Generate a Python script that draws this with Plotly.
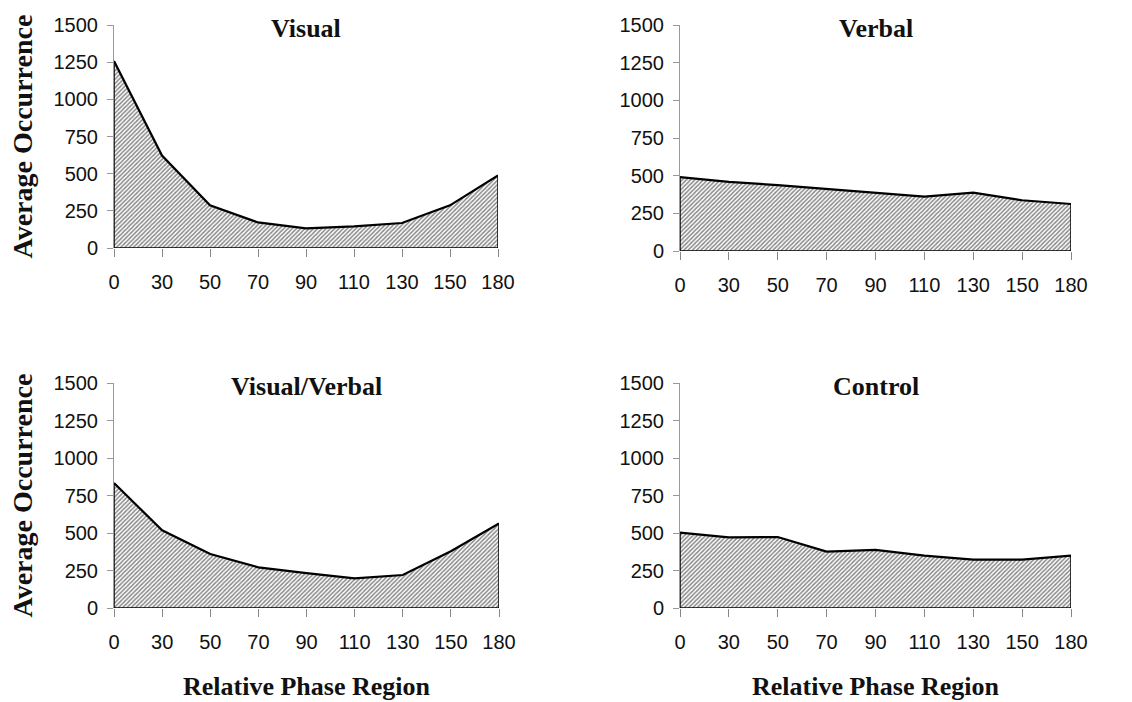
import plotly.graph_objects as go

phase_regions = ["0", "30", "50", "70", "90", "110", "130", "150", "180"]
visual = [1258, 622, 287, 172, 132, 146, 168, 287, 488]
verbal = [490, 459, 437, 412, 390, 361, 388, 337, 312]
visual_verbal = [833, 518, 360, 271, 233, 198, 220, 378, 564]
control = [502, 471, 473, 376, 387, 349, 322, 322, 349]
panel_titles = ["Visual", "Verbal", "Visual/Verbal", "Control"]
y_ticks = [0, 250, 500, 750, 1000, 1250, 1500]

W, H = 1132, 702
# panel pixel boxes: (left, right, top, bottom)
boxes = [(114, 498, 25, 248), (680, 1071, 25, 251),
         (114, 499, 383, 608), (680, 1071, 383, 608)]
series = [visual, verbal, visual_verbal, control]

fig = go.Figure()
serif = "Liberation Serif, Times New Roman, serif"
sans = "Liberation Sans, Arial, sans-serif"

for i, (vals, box, title) in enumerate(zip(series, boxes, panel_titles)):
    n = "" if i == 0 else str(i + 1)
    xa, ya = "x" + n, "y" + n
    l, r, t, b = box
    fig.add_trace(go.Scatter(
        x=phase_regions, y=vals, xaxis=xa, yaxis=ya, mode="lines",
        line=dict(color="black", width=2.2), fill="tozeroy",
        fillcolor="white",
        fillpattern=dict(shape="/", fgcolor="#111111", bgcolor="white",
                         size=3, solidity=0.5),
        showlegend=False, hoverinfo="skip"))
    # closing edges at the ends and baseline
    fig.add_trace(go.Scatter(
        x=[phase_regions[0], phase_regions[0], phase_regions[-1], phase_regions[-1]],
        y=[vals[0], 0, 0, vals[-1]], xaxis=xa, yaxis=ya, mode="lines",
        line=dict(color="black", width=1.5), showlegend=False, hoverinfo="skip"))
    fig.layout["xaxis" + n] = dict(
        domain=[l / W, r / W], anchor=ya, type="category", automargin=False,
        categoryorder="array", categoryarray=phase_regions,
        range=[0, len(phase_regions) - 1], showgrid=False, zeroline=False,
        showline=False, ticks="outside", ticklen=8, tickcolor="#888888",
        tickwidth=1, ticklabelstandoff=8,
        tickfont=dict(family=sans, size=20, color="#111111"), fixedrange=True)
    fig.layout["yaxis" + n] = dict(
        domain=[1 - b / H, 1 - t / H], anchor=xa, range=[0, 1500], automargin=False,
        tickvals=y_ticks, showgrid=False, zeroline=False, showline=True,
        linecolor="#999999", linewidth=1, ticks="outside", ticklen=6,
        tickcolor="#999999", tickwidth=1, ticklabelstandoff=5,
        tickfont=dict(family=sans, size=20, color="#111111"), fixedrange=True)
    fig.add_annotation(text="<b>%s</b>" % title, xref="paper", yref="paper",
                       x=(l + r) / 2 / W, y=1 - (t + 3) / H, xanchor="center",
                       yanchor="middle", showarrow=False,
                       font=dict(family=serif, size=26, color="#111111"))

for t, b in [(25, 248), (383, 608)]:
    fig.add_annotation(text="<b>Average Occurrence</b>", xref="paper", yref="paper",
                       x=22 / W, y=1 - (t + b) / 2 / H, xanchor="center",
                       yanchor="middle", textangle=-90, showarrow=False,
                       font=dict(family=serif, size=28, color="#111111"))
for l, r in [(114, 499), (680, 1071)]:
    fig.add_annotation(text="<b>Relative Phase Region</b>", xref="paper", yref="paper",
                       x=(l + r) / 2 / W, y=1 - 686 / H, xanchor="center",
                       yanchor="middle", showarrow=False,
                       font=dict(family=serif, size=26, color="#111111"))

fig.update_layout(width=W, height=H, margin=dict(l=0, r=0, t=0, b=0),
                  paper_bgcolor="white", plot_bgcolor="white")
fig.write_html("out.html")
